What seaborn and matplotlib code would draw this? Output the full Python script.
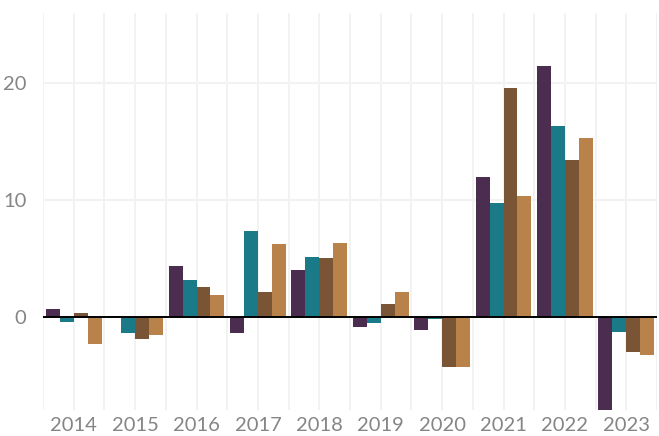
import matplotlib
matplotlib.use("Agg")
import matplotlib.pyplot as plt
from matplotlib.ticker import MultipleLocator
import seaborn as sns
import pandas as pd

years = ["2014", "2015", "2016", "2017", "2018", "2019", "2020", "2021", "2022", "2023"]
series_names = ["A", "B", "C", "D"]
s_a = [0.7, 0.1, 4.4, -1.4, 4.0, -0.85, -1.1, 12.0, 21.5, -9.0]
s_b = [-0.4, -1.4, 3.15, 7.35, 5.15, -0.5, -0.15, 9.75, 16.3, -1.3]
s_c = [0.35, -1.85, 2.55, 2.15, 5.05, 1.1, -4.25, 19.55, 13.4, -3.0]
s_d = [-2.3, -1.55, 1.9, 6.25, 6.3, 2.15, -4.25, 10.35, 15.3, -3.25]
colors = ["#4b2e4f", "#1b7a87", "#7a5535", "#b9824b"]

rows = []
for name, vals in zip(series_names, [s_a, s_b, s_c, s_d]):
    for y, v in zip(years, vals):
        rows.append({"year": y, "series": name, "value": v})
df = pd.DataFrame(rows)

sns.set_style("white")
plt.rcParams["font.family"] = ["Lato", "DejaVu Sans"]

fig = plt.figure(figsize=(6.59, 4.36), dpi=100)
ax = fig.add_axes([43 / 659, 1 - 410 / 436, 614 / 659, (410 - 13) / 436])

sns.barplot(data=df, x="year", y="value", hue="series", palette=colors,
            width=0.91, saturation=1, legend=False, ax=ax, zorder=3,
            linewidth=0)

ax.set_ylim(-7.95, 26)
ax.set_xlim(-0.5, len(years) - 0.5)
ax.yaxis.set_major_locator(MultipleLocator(10))
ax.set_xticks([i - 0.5 for i in range(len(years) + 1)], minor=True)
ax.grid(axis="y", color="#f2f2f2", linewidth=1.5, zorder=0)
ax.grid(axis="x", which="both", color="#f0f0f0", linewidth=1.2, zorder=0)
ax.set_axisbelow(True)
ax.axhline(0, color="black", linewidth=1.4, zorder=4)

for s in ax.spines.values():
    s.set_visible(False)
ax.tick_params(axis="both", which="both", length=0, labelsize=14.5,
               labelcolor="#858585")
ax.tick_params(axis="y", pad=12)
ax.tick_params(axis="x", pad=5)
ax.set_xlabel("")
ax.set_ylabel("")

fig.savefig("out.png", dpi=100)
